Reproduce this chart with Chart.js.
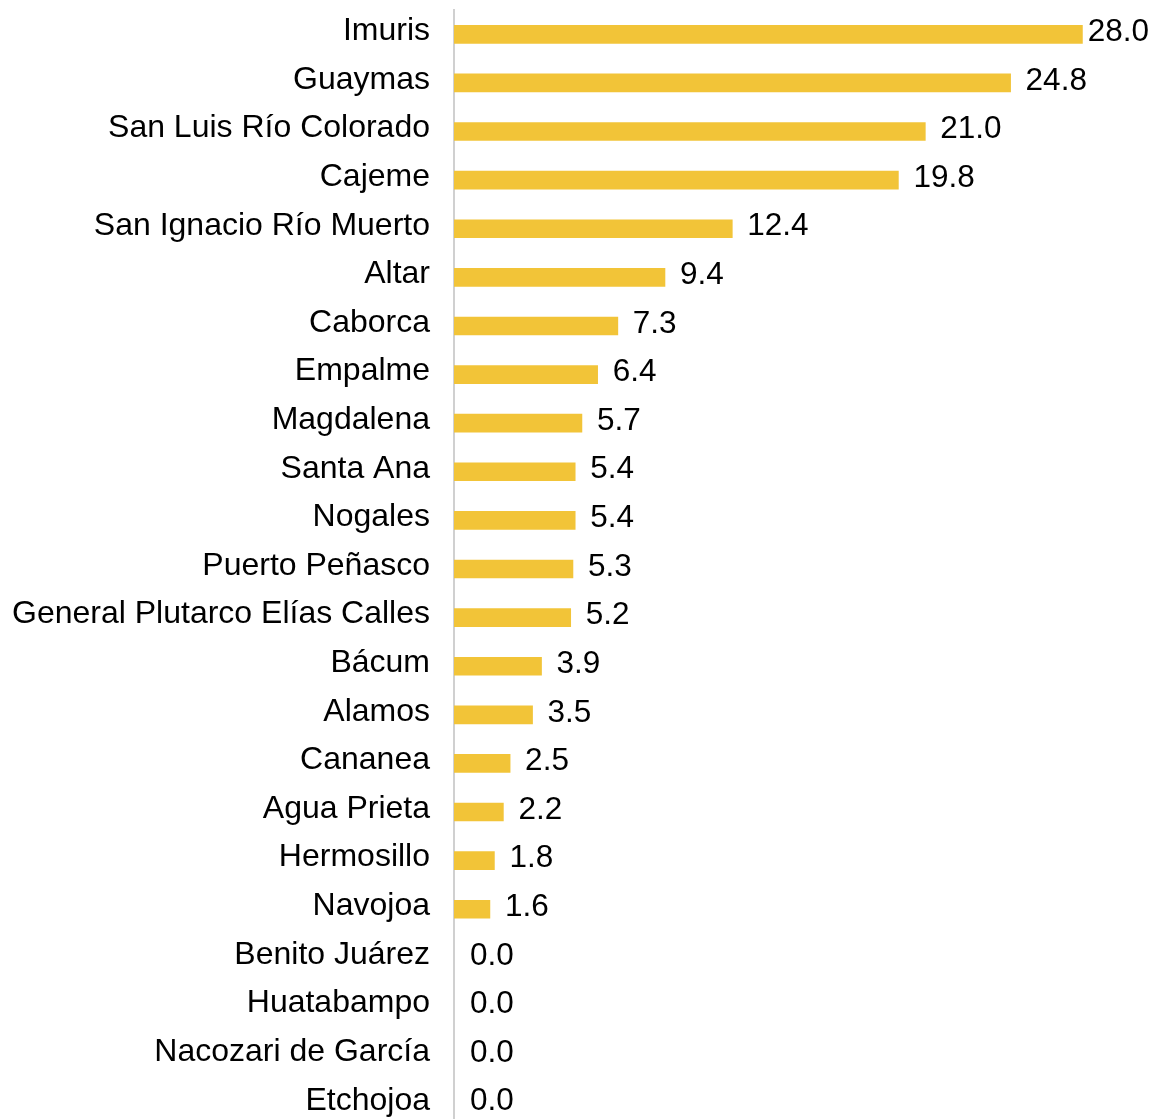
<!DOCTYPE html>
<html>
<head>
<meta charset="utf-8">
<script src="https://cdn.jsdelivr.net/npm/chart.js@4/dist/chart.umd.min.js"></script>
<style>
  html, body { margin: 0; padding: 0; background: #fff; overflow: hidden; }
  #wrap { width: 1152px; height: 1128px; }
</style>
</head>
<body>
<div id="wrap"><canvas id="chart"></canvas></div>
<script>
// municipios y valores
const municipios = [
  'Imuris', 'Guaymas', 'San Luis Río Colorado', 'Cajeme', 'San Ignacio Río Muerto',
  'Altar', 'Caborca', 'Empalme', 'Magdalena', 'Santa Ana', 'Nogales',
  'Puerto Peñasco', 'General Plutarco Elías Calles', 'Bácum', 'Alamos',
  'Cananea', 'Agua Prieta', 'Hermosillo', 'Navojoa', 'Benito Juárez',
  'Huatabampo', 'Nacozari de García', 'Etchojoa'
];
const valores = [
  28.0, 24.8, 21.0, 19.8, 12.4, 9.4, 7.3, 6.4, 5.7, 5.4, 5.4,
  5.3, 5.2, 3.9, 3.5, 2.5, 2.2, 1.8, 1.6, 0.0, 0.0, 0.0, 0.0
];

const FONT = "'Liberation Sans', Arial, Helvetica, sans-serif";
const amarillo = '#F2C438';

// etiquetas de valor al final de cada barra
const etiquetas = {
  id: 'etiquetas',
  afterDatasetsDraw(chart) {
    const ctx = chart.ctx;
    const meta = chart.getDatasetMeta(0);
    ctx.save();
    ctx.font = '31.5px ' + FONT;
    ctx.fillStyle = '#000';
    ctx.textBaseline = 'middle';
    ctx.textAlign = 'left';
    meta.data.forEach((bar, i) => {
      const txt = valores[i].toFixed(1);
      const w = ctx.measureText(txt).width;
      let x = Math.max(bar.x, chart.chartArea.left + 1) + 15;
      if (x + w > chart.width - 3) x = chart.width - 3 - w; // no salirse del lienzo
      ctx.fillText(txt, x, bar.y - 2);
    });
    ctx.restore();
  }
};

new Chart(document.getElementById('chart'), {
  type: 'bar',
  data: {
    labels: municipios,
    datasets: [{
      data: valores,
      backgroundColor: (c) => (c.raw > 0 ? amarillo : 'rgba(0,0,0,0)'), // sin trazo en ceros
      barThickness: 18
    }]
  },
  options: {
    indexAxis: 'y',
    responsive: true,
    maintainAspectRatio: false,
    animation: false,
    layout: { padding: { top: 10, right: 0, bottom: 0, left: 0 } },
    plugins: {
      legend: { display: false },
      tooltip: { enabled: false }
    },
    scales: {
      x: {
        display: false,
        min: 0,
        max: 31.1
      },
      y: {
        grid: { display: false, drawTicks: false },
        border: { display: true, color: '#d0d0d0', width: 2 },
        ticks: {
          color: '#000',
          padding: 24,
          labelOffset: -3,
          font: { family: FONT, size: 32 }
        },
        afterFit(scale) {
          scale.width = 454;
          scale.paddingTop = 0;
          scale.paddingBottom = 0;
        }
      }
    }
  },
  plugins: [etiquetas]
});
</script>
</body>
</html>
